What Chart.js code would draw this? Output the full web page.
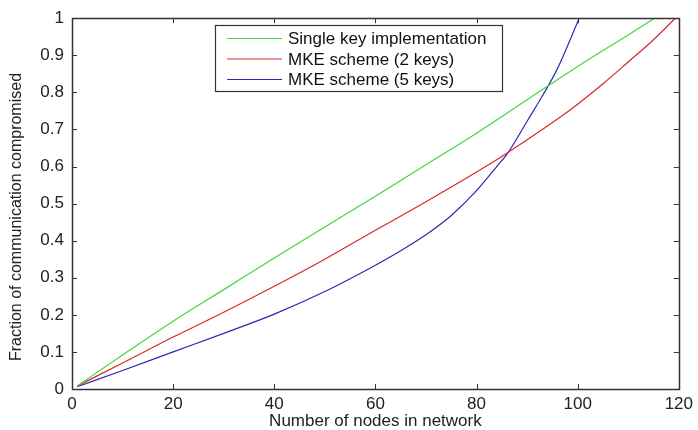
<!DOCTYPE html>
<html>
<head>
<meta charset="utf-8">
<script src="https://cdn.jsdelivr.net/npm/chart.js@4.4.0/dist/chart.umd.min.js"></script>
<style>
  html, body { margin: 0; padding: 0; background: #fff; }
  #wrap { width: 698px; height: 430px; }
</style>
</head>
<body>
<div id="wrap"><canvas id="chart"></canvas></div>
<script>
    'use strict';

    // values
    var seriesNames = ['Single key implementation', 'MKE scheme (2 keys)', 'MKE scheme (5 keys)'];
    var seriesColors = ['#3fd83f', '#d82828', '#2a2ab4'];

    var singleX = [1, 10, 20, 30, 40, 50, 60, 70, 80, 90, 100, 110, 115.2];
    var singleY = [0.008, 0.092, 0.183, 0.268, 0.353, 0.437, 0.52, 0.605, 0.69, 0.78, 0.87, 0.955, 1.0];

    var mke2X = [1, 10, 20, 30, 40, 50, 60, 70, 80, 86, 90, 96, 100, 105, 110, 115, 119.3];
    var mke2Y = [0.008, 0.07, 0.14, 0.207, 0.277, 0.35, 0.428, 0.505, 0.585, 0.636, 0.672, 0.728, 0.768, 0.823, 0.882, 0.942, 1.0];

    var mke5X = [1, 10, 20, 30, 40, 50, 60, 65, 70, 75, 80, 84, 86.2, 90, 93, 96, 100.3];
    var mke5Y = [0.006, 0.05, 0.1, 0.15, 0.202, 0.263, 0.334, 0.373, 0.416, 0.468, 0.535, 0.6, 0.637, 0.722, 0.79, 0.864, 1.0];

    var xTicks = [0, 20, 40, 60, 80, 100, 120];
    var yTicks = [0, 0.1, 0.2, 0.3, 0.4, 0.5, 0.6, 0.7, 0.8, 0.9, 1];

    var xTitle = 'Number of nodes in network';
    var yTitle = 'Fraction of communication compromised';

    function points(xs, ys) {
        return xs.map(function (x, i) { return { x: x, y: ys[i] }; });
    }

    var seriesPoints = [points(singleX, singleY), points(mke2X, mke2Y), points(mke5X, mke5Y)];

    var datasets = seriesNames.map(function (name, i) {
        return {
            label: name,
            data: seriesPoints[i],
            borderColor: seriesColors[i],
            borderWidth: 1.2,
            pointRadius: 0,
            cubicInterpolationMode: 'monotone',
            fill: false
        };
    });

    var fontFamily = '"Liberation Sans", Arial, sans-serif';

    // matlab style box with inward ticks, y label and legend inside the axes
    var matlabBox = {
        id: 'matlabBox',
        afterDraw: function (chart) {
            var ctx = chart.ctx, a = chart.chartArea;
            var xs = chart.scales.x, ys = chart.scales.y;
            var tl = 5;
            ctx.save();
            ctx.strokeStyle = '#333';
            ctx.lineWidth = 1;
            ctx.beginPath();
            xTicks.forEach(function (v) {
                var px = Math.round(xs.getPixelForValue(v)) + 0.5;
                ctx.moveTo(px, a.bottom); ctx.lineTo(px, a.bottom - tl);
                ctx.moveTo(px, a.top); ctx.lineTo(px, a.top + tl);
            });
            yTicks.forEach(function (v) {
                var py = Math.round(ys.getPixelForValue(v)) + 0.5;
                ctx.moveTo(a.left, py); ctx.lineTo(a.left + tl, py);
                ctx.moveTo(a.right, py); ctx.lineTo(a.right - tl, py);
            });
            ctx.stroke();
            ctx.lineWidth = 1.5;
            ctx.strokeRect(Math.round(a.left) + 0.5, Math.round(a.top) + 0.5,
                Math.round(a.right - a.left), Math.round(a.bottom - a.top));

            // y axis label, sits a bit below the middle like the original
            ctx.save();
            ctx.translate(17, 217);
            ctx.rotate(-Math.PI / 2);
            ctx.font = '16px ' + fontFamily;
            ctx.fillStyle = '#222';
            ctx.textAlign = 'center';
            ctx.textBaseline = 'middle';
            ctx.fillText(yTitle, 0, 0);
            ctx.restore();

            // legend
            var bx = 215.5, by = 25.5, bw = 287, bh = 66;
            ctx.fillStyle = '#fff';
            ctx.fillRect(bx, by, bw, bh);
            ctx.lineWidth = 1.2;
            ctx.strokeStyle = '#333';
            ctx.strokeRect(bx, by, bw, bh);
            ctx.font = '17px ' + fontFamily;
            ctx.textBaseline = 'middle';
            ctx.textAlign = 'left';
            chart.data.datasets.forEach(function (ds, i) {
                var ry = 38.5 + i * 20.5;
                ctx.strokeStyle = ds.borderColor;
                ctx.lineWidth = 1.2;
                ctx.beginPath();
                ctx.moveTo(227, ry); ctx.lineTo(282, ry);
                ctx.stroke();
                ctx.fillStyle = '#111';
                ctx.fillText(ds.label, 288, ry + 1);
            });
            ctx.restore();
        }
    };

    var tickFont = { family: fontFamily, size: 17 };

    new Chart(document.getElementById('chart'), {
        type: 'line',
        data: { datasets: datasets },
        options: {
            responsive: true,
            maintainAspectRatio: false,
            animation: false,
            layout: { padding: { top: 14, right: 15, left: 0, bottom: 0 } },
            plugins: {
                legend: { display: false },
                tooltip: { enabled: false }
            },
            scales: {
                x: {
                    type: 'linear',
                    min: 0,
                    max: 120,
                    afterBuildTicks: function (s) { s.ticks = xTicks.map(function (v) { return { value: v }; }); },
                    afterFit: function (s) { s.height = 41; },
                    grid: { display: false, drawTicks: false },
                    border: { display: false },
                    ticks: { font: tickFont, color: '#222', padding: 5, maxRotation: 0, callback: function (v) { return String(v); } },
                    title: { display: true, text: xTitle, font: { family: fontFamily, size: 17 }, color: '#222', padding: { top: 0, bottom: -2 } }
                },
                y: {
                    type: 'linear',
                    min: 0,
                    max: 1,
                    afterBuildTicks: function (s) { s.ticks = yTicks.map(function (v) { return { value: v }; }); },
                    afterFit: function (s) { s.width = 72; },
                    grid: { display: false, drawTicks: false },
                    border: { display: false },
                    ticks: { font: tickFont, color: '#222', padding: 8, callback: function (v) { return String(v); } }
                }
            }
        },
        plugins: [matlabBox]
    });
</script>
</body>
</html>
